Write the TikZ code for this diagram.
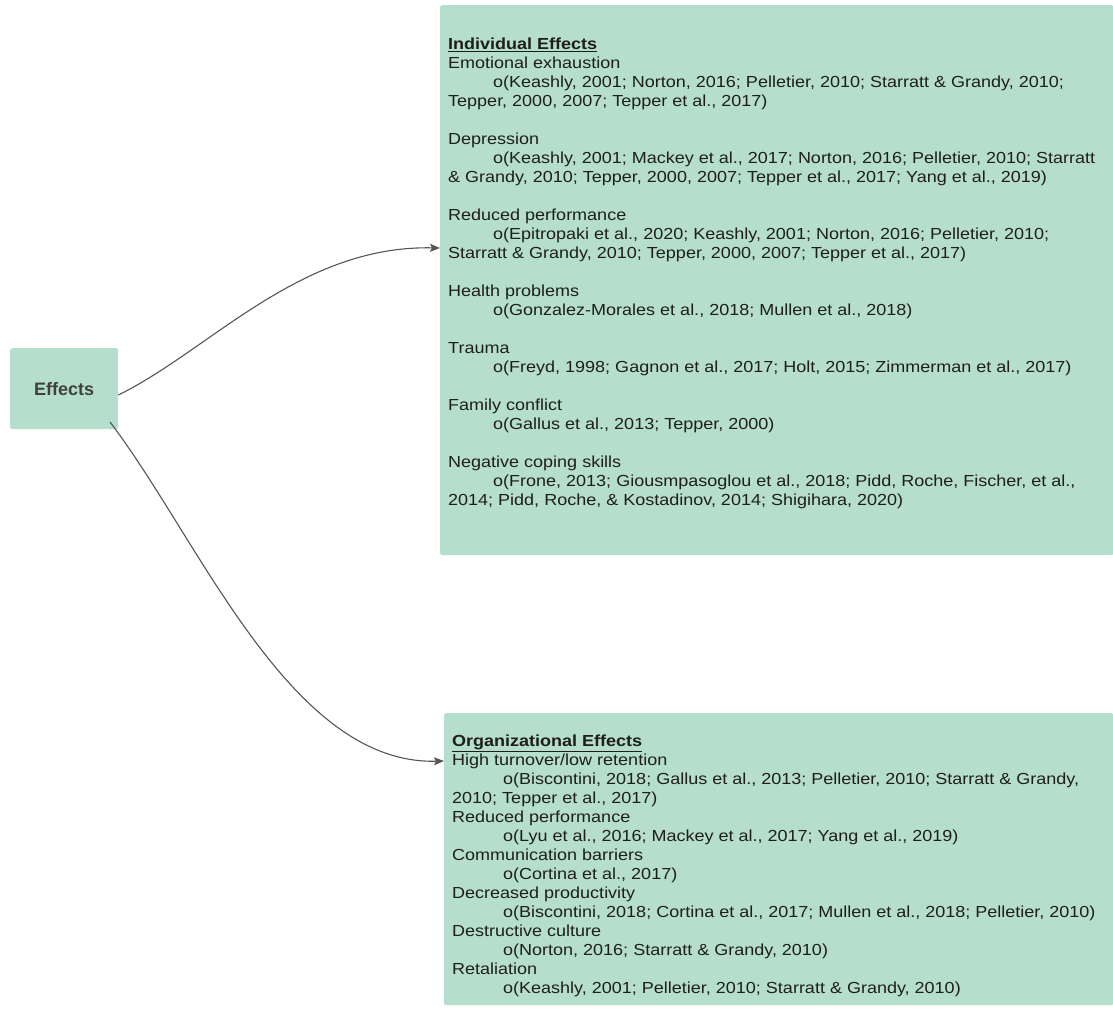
\documentclass[tikz,border=0pt]{standalone}
\usepackage{fontspec}
\setmainfont{Liberation Sans}
\newfontfamily\widesans[FakeStretch=1.125]{Liberation Sans}
\usetikzlibrary{arrows.meta}
\definecolor{boxgreen}{HTML}{B6DECD}
\definecolor{txtdark}{HTML}{1E1E1E}
\definecolor{linegray}{HTML}{555555}
\tikzset{
  greenbox/.style={fill=boxgreen, draw=none, rounded corners=2pt},
  listtext/.style={anchor=north west, align=left, inner sep=0pt, text=txtdark,
    font=\widesans\fontsize{16}{19}\selectfont},
  conn/.style={draw=linegray, line width=1.1pt, -{Stealth[length=10pt,width=8pt,inset=2pt]}},
}
\newcommand{\indA}{\hspace*{45pt}}
\newcommand{\indB}{\hspace*{51pt}}
\begin{document}
\begin{tikzpicture}[x=1pt,y=-1pt]
\useasboundingbox (0,0) rectangle (1113,1013);
% boxes
\node[greenbox, anchor=north west, minimum width=108pt, minimum height=81pt] (eff) at (10,348) {};
\node[font=\fontsize{18}{20}\selectfont\bfseries, text=txtdark!85] (efft) at (eff.center) {Effects};
\node[greenbox, anchor=north west, minimum width=673pt, minimum height=550pt] (indiv) at (440,5) {};
\node[greenbox, anchor=north west, minimum width=669pt, minimum height=292pt] (org) at (444,713) {};
% texts
\node[listtext] (indt) at (448,38) {%
\underline{\textbf{Individual Effects}}\\
Emotional exhaustion\\
\indA o(Keashly, 2001; Norton, 2016; Pelletier, 2010; Starratt \& Grandy, 2010;\\
Tepper, 2000, 2007; Tepper et al., 2017)\\[19pt]
Depression\\
\indA o(Keashly, 2001; Mackey et al., 2017; Norton, 2016; Pelletier, 2010; Starratt\\
\& Grandy, 2010; Tepper, 2000, 2007; Tepper et al., 2017; Yang et al., 2019)\\[19pt]
Reduced performance\\
\indA o(Epitropaki et al., 2020; Keashly, 2001; Norton, 2016; Pelletier, 2010;\\
Starratt \& Grandy, 2010; Tepper, 2000, 2007; Tepper et al., 2017)\\[19pt]
Health problems\\
\indA o(Gonzalez-Morales et al., 2018; Mullen et al., 2018)\\[19pt]
Trauma\\
\indA o(Freyd, 1998; Gagnon et al., 2017; Holt, 2015; Zimmerman et al., 2017)\\[19pt]
Family conflict\\
\indA o(Gallus et al., 2013; Tepper, 2000)\\[19pt]
Negative coping skills\\
\indA o(Frone, 2013; Giousmpasoglou et al., 2018; Pidd, Roche, Fischer, et al.,\\
2014; Pidd, Roche, \& Kostadinov, 2014; Shigihara, 2020)};
\node[listtext] (orgt) at (452,735) {%
\underline{\textbf{Organizational Effects}}\\
High turnover/low retention\\
\indB o(Biscontini, 2018; Gallus et al., 2013; Pelletier, 2010; Starratt \& Grandy,\\
2010; Tepper et al., 2017)\\
Reduced performance\\
\indB o(Lyu et al., 2016; Mackey et al., 2017; Yang et al., 2019)\\
Communication barriers\\
\indB o(Cortina et al., 2017)\\
Decreased productivity\\
\indB o(Biscontini, 2018; Cortina et al., 2017; Mullen et al., 2018; Pelletier, 2010)\\
Destructive culture\\
\indB o(Norton, 2016; Starratt \& Grandy, 2010)\\
Retaliation\\
\indB o(Keashly, 2001; Pelletier, 2010; Starratt \& Grandy, 2010)};
% connectors
\coordinate (a1) at (indiv.west |- 0,248);
\coordinate (a2) at (org.west |- 0,761);
\coordinate (s1) at (eff.east |- 0,395);
\coordinate (s2) at (110,422);
\draw[conn] (s1) .. controls (210,350) and (300,245) .. (a1);
\draw[conn] (s2) .. controls (200,540) and (290,765) .. (a2);
\end{tikzpicture}
\end{document}
